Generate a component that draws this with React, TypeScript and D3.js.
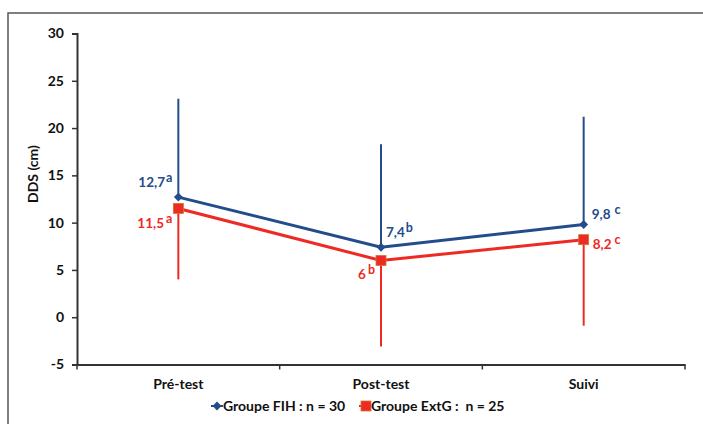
import { useEffect, useRef } from 'react';
import * as d3 from 'd3';

const categories = ['Pré-test', 'Post-test', 'Suivi'];
const fihValues = [12.7, 7.4, 9.8];
const fihUpper = [23.1, 18.3, 21.2];
const extgValues = [11.5, 6, 8.2];
const extgLower = [4.0, -3.1, -0.9];
const fihLabels = ['12,7', '7,4', '9,8'];
const fihLetters = ['a', 'b', 'c'];
const extgLabels = ['11,5', '6', '8,2'];
const extgLetters = ['a', 'b', 'c'];
const yTicks = [-5, 0, 5, 10, 15, 20, 25, 30];

const BLUE = '#234c8c';
const RED = '#ee2a24';
const FONT = 'Lato, "Open Sans", sans-serif';

export default function App() {
  const ref = useRef<SVGSVGElement>(null);

  useEffect(() => {
    const svgEl = ref.current;
    if (!svgEl) return;
    const svg = d3.select(svgEl);
    svg.selectAll('*').remove();

    const width = 703;
    const height = 424;
    const left = 77;
    const right = 685;
    const top = 33.5;
    const bottom = 364.5;

    svg.attr('width', width).attr('height', height);

    // outer frame (right/bottom edges fall outside the picture)
    svg
      .append('rect')
      .attr('x', 8)
      .attr('y', 13)
      .attr('width', 720)
      .attr('height', 440)
      .attr('fill', 'none')
      .attr('stroke', '#555')
      .attr('stroke-width', 1.5);

    const x = d3.scaleBand<string>().domain(categories).range([left, right]);
    const y = d3.scaleLinear().domain([-5, 30]).range([bottom, top]);
    const cx = (c: string) => (x(c) ?? 0) + x.bandwidth() / 2;

    // y axis
    const yAxis = svg
      .append('g')
      .attr('transform', `translate(${left},0)`)
      .call(d3.axisLeft(y).tickValues(yTicks).tickSize(5).tickPadding(8).tickFormat((d) => String(d)));
    yAxis.select('.domain').attr('stroke', '#333').attr('stroke-width', 2);
    yAxis.selectAll('.tick line').attr('stroke', '#333').attr('stroke-width', 1.5);
    yAxis
      .selectAll('.tick text')
      .attr('font-family', FONT)
      .attr('font-weight', 700)
      .attr('font-size', 14)
      .attr('fill', '#111');

    // x axis
    const xAxis = svg
      .append('g')
      .attr('transform', `translate(0,${bottom})`)
      .call(d3.axisBottom(x).tickSize(0).tickPadding(15));
    xAxis.select('.domain').attr('stroke', '#333').attr('stroke-width', 2);
    xAxis
      .selectAll('.tick text')
      .attr('font-family', FONT)
      .attr('font-weight', 700)
      .attr('font-size', 14)
      .attr('fill', '#111');
    const bounds = categories.map((c) => x(c) ?? 0).concat([right]);
    svg
      .append('g')
      .selectAll('line')
      .data(bounds)
      .join('line')
      .attr('x1', (d) => d)
      .attr('x2', (d) => d)
      .attr('y1', bottom)
      .attr('y2', bottom + 5)
      .attr('stroke', '#333')
      .attr('stroke-width', 1.5);

    svg
      .append('text')
      .attr('transform', `translate(38,${(top + bottom) / 2 - 25}) rotate(-90)`)
      .attr('text-anchor', 'middle')
      .attr('font-family', FONT)
      .attr('font-weight', 700)
      .attr('font-size', 14)
      .attr('fill', '#111')
      .text('DDS (cm)');

    // error bars
    svg
      .append('g')
      .selectAll('line')
      .data(categories)
      .join('line')
      .attr('x1', (c) => cx(c))
      .attr('x2', (c) => cx(c))
      .attr('y1', (_c, i) => y(fihValues[i]))
      .attr('y2', (_c, i) => y(fihUpper[i]))
      .attr('stroke', BLUE)
      .attr('stroke-width', 2);
    svg
      .append('g')
      .selectAll('line')
      .data(categories)
      .join('line')
      .attr('x1', (c) => cx(c))
      .attr('x2', (c) => cx(c))
      .attr('y1', (_c, i) => y(extgValues[i]))
      .attr('y2', (_c, i) => y(extgLower[i]))
      .attr('stroke', RED)
      .attr('stroke-width', 2);

    const line = d3
      .line<number>()
      .x((_d, i) => cx(categories[i]))
      .y((d) => y(d));

    svg
      .append('path')
      .datum(extgValues)
      .attr('d', line)
      .attr('fill', 'none')
      .attr('stroke', RED)
      .attr('stroke-width', 3);
    svg
      .append('path')
      .datum(fihValues)
      .attr('d', line)
      .attr('fill', 'none')
      .attr('stroke', BLUE)
      .attr('stroke-width', 3);

    const diamond = d3.symbol().type(d3.symbolDiamond2).size(50);
    svg
      .append('g')
      .selectAll('path')
      .data(fihValues)
      .join('path')
      .attr('d', diamond)
      .attr('transform', (d, i) => `translate(${cx(categories[i])},${y(d)})`)
      .attr('fill', BLUE);
    svg
      .append('g')
      .selectAll('rect')
      .data(extgValues)
      .join('rect')
      .attr('x', (_d, i) => cx(categories[i]) - 5)
      .attr('y', (d) => y(d) - 5)
      .attr('width', 10)
      .attr('height', 10)
      .attr('fill', RED)
      .attr('stroke', '#c87a2a')
      .attr('stroke-width', 0.8);

    // value labels
    const addLabel = (
      px: number,
      py: number,
      anchor: string,
      text: string,
      letter: string,
      color: string,
      gap: number
    ) => {
      const t = svg
        .append('text')
        .attr('x', px)
        .attr('y', py)
        .attr('text-anchor', anchor)
        .attr('font-family', FONT)
        .attr('font-weight', 700)
        .attr('font-size', 13.5)
        .attr('fill', color);
      t.append('tspan').text(text);
      t.append('tspan').attr('dx', gap).attr('dy', -5).attr('font-size', 12.5).text(letter);
    };

    const fihOffsets = [
      { dx: -6, dy: -10, anchor: 'end', gap: 1 },
      { dx: 5, dy: -10, anchor: 'start', gap: 1 },
      { dx: 8, dy: -6, anchor: 'start', gap: 4 },
    ];
    const extgOffsets = [
      { dx: -6, dy: 20, anchor: 'end', gap: 2 },
      { dx: -6, dy: 19, anchor: 'end', gap: 2 },
      { dx: 9, dy: 9, anchor: 'start', gap: 3 },
    ];
    categories.forEach((c, i) => {
      const o = fihOffsets[i];
      addLabel(cx(c) + o.dx, y(fihValues[i]) + o.dy, o.anchor, fihLabels[i], fihLetters[i], BLUE, o.gap);
      const r = extgOffsets[i];
      addLabel(cx(c) + r.dx, y(extgValues[i]) + r.dy, r.anchor, extgLabels[i], extgLetters[i], RED, r.gap);
    });

    // legend
    const ly = 406;
    const lg = svg.append('g');
    lg.append('line').attr('x1', 211).attr('x2', 223).attr('y1', ly).attr('y2', ly).attr('stroke', BLUE).attr('stroke-width', 2);
    lg.append('path').attr('d', diamond).attr('transform', `translate(217,${ly})`).attr('fill', BLUE);
    lg.append('text')
      .attr('x', 223)
      .attr('y', ly + 5)
      .attr('font-family', FONT)
      .attr('font-weight', 700)
      .attr('font-size', 14)
      .attr('fill', '#111')
      .text('Groupe FIH : n = 30');
    lg.append('line').attr('x1', 359).attr('x2', 371).attr('y1', ly).attr('y2', ly).attr('stroke', RED).attr('stroke-width', 2);
    lg.append('rect')
      .attr('x', 361)
      .attr('y', ly - 5)
      .attr('width', 10)
      .attr('height', 10)
      .attr('fill', RED)
      .attr('stroke', '#c87a2a')
      .attr('stroke-width', 0.8);
    lg.append('text')
      .attr('x', 371)
      .attr('y', ly + 5)
      .attr('font-family', FONT)
      .attr('font-weight', 700)
      .attr('font-size', 14)
      .attr('fill', '#111')
      .attr('xml:space', 'preserve')
      .style('white-space', 'pre')
      .text('Groupe ExtG :  n = 25');
  }, []);

  return (
    <svg
      ref={ref}
      style={{ position: 'absolute', left: 0, top: 0, background: '#fff' }}
      width={703}
      height={424}
    />
  );
}
